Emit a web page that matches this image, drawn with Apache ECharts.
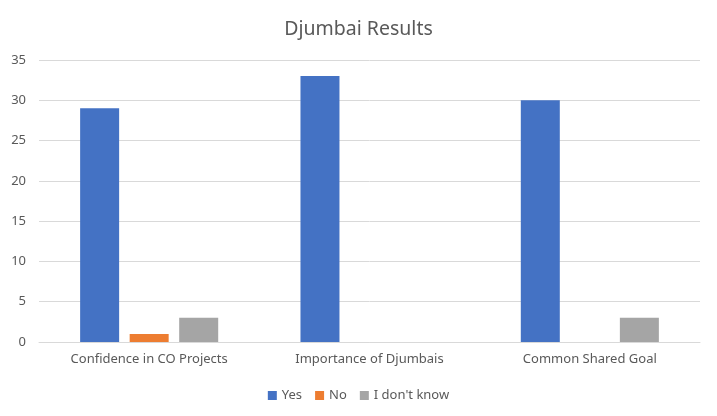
<!DOCTYPE html>
<html>
<head>
<meta charset="utf-8">
<script src="https://cdn.jsdelivr.net/npm/echarts@6/dist/echarts.min.js"></script>
<style>
  html, body { margin: 0; padding: 0; background: #fff; }
  #chart { width: 717px; height: 416px; }
</style>
</head>
<body>
<div id="chart"></div>
<script>
const categories = ['Confidence in CO Projects', 'Importance of Djumbais', 'Common Shared Goal'];
const yesValues = [29, 33, 30];
const noValues = [1, 0, 0];
const dontKnowValues = [3, 0, 3];
const yTicks = [0, 5, 10, 15, 20, 25, 30, 35];

const font = 'Noto Sans';
const textColor = '#595959';

const chart = echarts.init(document.getElementById('chart'));
chart.setOption({
  animation: false,
  title: {
    text: 'Djumbai Results',
    left: 'center',
    top: 14,
    textStyle: { fontFamily: font, fontSize: 19.5, fontWeight: 'normal', color: textColor }
  },
  legend: {
    bottom: 9,
    left: 'center',
    itemWidth: 9,
    itemHeight: 9,
    itemGap: 13,
    icon: 'rect',
    textStyle: { fontFamily: font, fontSize: 13, color: textColor },
    data: ['Yes', 'No', "I don't know"]
  },
  grid: { left: 39, right: 17, top: 60, bottom: 74 },
  xAxis: {
    type: 'category',
    data: categories,
    axisLine: { lineStyle: { color: '#d9d9d9' } },
    axisTick: { show: false },
    axisLabel: { fontFamily: font, fontSize: 13, color: textColor, margin: 11 }
  },
  yAxis: {
    type: 'value',
    min: yTicks[0],
    max: yTicks[yTicks.length - 1],
    interval: 5,
    axisLine: { show: false },
    axisTick: { show: false },
    splitLine: { lineStyle: { color: '#d9d9d9' } },
    axisLabel: { fontFamily: font, fontSize: 13, color: textColor, margin: 13 }
  },
  series: [
    { name: 'Yes', type: 'bar', data: yesValues, barWidth: 39, barGap: '27%', itemStyle: { color: '#4472C4' } },
    { name: 'No', type: 'bar', data: noValues, barWidth: 39, barGap: '27%', itemStyle: { color: '#ED7D31' } },
    { name: "I don't know", type: 'bar', data: dontKnowValues, barWidth: 39, barGap: '27%', itemStyle: { color: '#A5A5A5' } }
  ]
});
</script>
</body>
</html>
